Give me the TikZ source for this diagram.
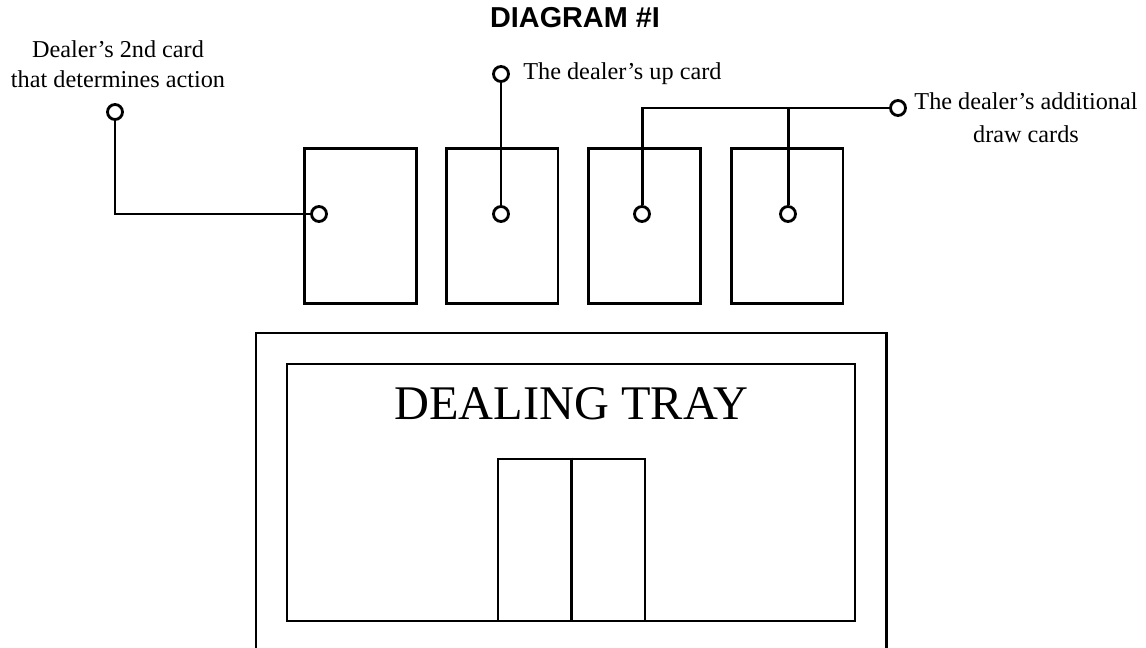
\documentclass[tikz,border=0pt]{standalone}
\usepackage{fontspec}
\setmainfont{Liberation Serif}
\newfontfamily\headfont{Liberation Sans}
\usetikzlibrary{positioning}

\tikzset{
  card/.style={draw,line width=1.7pt,minimum width=2.24cm,minimum height=3.1cm,inner sep=0pt},
  pin/.style={circle,draw,fill=white,line width=1.6pt,minimum size=0.3cm,inner sep=0pt},
  wire/.style={line width=1.7pt},
  note/.style={font=\fontsize{13.8}{17}\selectfont,align=center,inner sep=0pt}
}

\begin{document}
\begin{tikzpicture}[x=0.02cm,y=-0.02cm]
  \useasboundingbox (0,0) rectangle (1146,648);
  % title
  \node[font=\headfont\bfseries\fontsize{16.4}{19}\selectfont,anchor=base,inner sep=0pt] (title) at (575,28) {DIAGRAM \#I};

  % the four cards
  \node[card] (c1) at (360.5,226) {};
  \node[card] (c2) at (502,226) {};
  \node[card] (c3) at (644.5,226) {};
  \node[card] (c4) at (787,226) {};

  % pins on the cards
  \node[pin] (p1) at (319,214) {};
  \node[pin] (p2) at (501,214) {};
  \node[pin] (p3) at (642,214) {};
  \node[pin] (p4) at (788,214) {};

  % label pins
  \node[pin] (q1) at (115,112) {};
  \node[pin] (q2) at (501,74) {};
  \node[pin] (q3) at (898,108) {};

  \node[note] (t1) at (118,64) {Dealer’s 2nd card\\that determines action};
  \node[note,anchor=base west] (t2) at (523,80) {The dealer’s up card};
  \node[note,font=\fontsize{13.8}{19}\selectfont] (t3) at (1026,118) {The dealer’s additional\\draw cards};

  % connectors
  \draw[wire] (q1) |- (p1);
  \draw[wire] (q2) -- (p2);
  \draw[wire] (p3) |- (q3);
  \draw[wire] (p4) -- (p4 |- q3);

  % dealing tray
  \draw[line width=1.7pt] (256,652) -- (256,333) -- (886,333) -- (886,652);
  \node[draw,line width=1.3pt,minimum width=11.36cm,minimum height=5.14cm,inner sep=0pt] (tray) at (571,492.5) {};
  \node[font=\fontsize{27.5}{30}\selectfont,anchor=base,inner sep=0pt] (trayname) at (571.5,419) {DEALING TRAY};
  \node[draw,line width=1.6pt,minimum width=2.94cm,minimum height=3.24cm,inner sep=0pt] (door) at (571.5,540) {};
  \draw[line width=1.6pt] (door.north) -- (door.south);
\end{tikzpicture}
\end{document}
